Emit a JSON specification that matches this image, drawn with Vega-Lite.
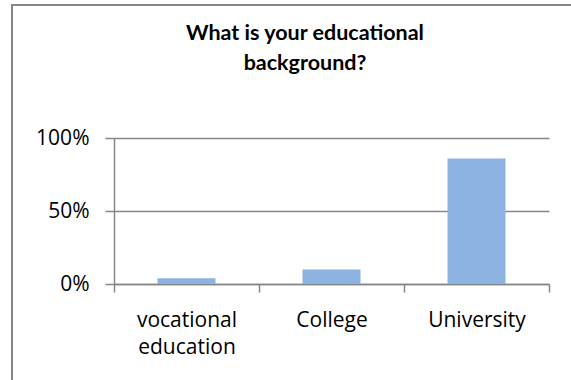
{
  "$schema": "https://vega.github.io/schema/vega-lite/v6.json",
  "autosize": "none",
  "padding": {"left": 12, "top": 5, "right": 0, "bottom": 0},
  "width": 586,
  "height": 400,
  "background": "white",
  "config": {
    "view": {"stroke": "#868686", "strokeWidth": 2},
    "font": "Open Sans"
  },
  "title": {
    "text": ["What is your educational", "background?"],
    "font": "Lato",
    "fontSize": 21.5,
    "fontWeight": "bold",
    "color": "#000000",
    "anchor": "middle",
    "frame": "group",
    "orient": "top",
    "offset": -69,
    "lineHeight": 30
  },
  "data": {
    "values": [
      {"background": "vocational education", "share": 0.04},
      {"background": "College", "share": 0.10},
      {"background": "University", "share": 0.86}
    ]
  },
  "mark": {"type": "bar", "color": "#8DB3E2", "width": {"band": 0.4}},
  "encoding": {
    "x": {
      "field": "background",
      "type": "nominal",
      "sort": null,
      "scale": {"range": [102, 537], "paddingInner": 0, "paddingOuter": 0},
      "axis": {
        "title": null,
        "offset": -121,
        "labelAngle": 0,
        "labelFont": "Open Sans",
        "labelFontSize": 21,
        "labelColor": "#000000",
        "labelPadding": 17,
        "labelLineHeight": 27,
        "labelExpr": "datum.label == 'vocational education' ? ['vocational', 'education'] : datum.label",
        "tickBand": "extent",
        "tickSize": 8,
        "tickColor": "#868686",
        "tickWidth": 1.5,
        "domainColor": "#868686",
        "domainWidth": 1.5,
        "grid": false
      }
    },
    "y": {
      "field": "share",
      "type": "quantitative",
      "scale": {"domain": [0, 1], "range": [279, 133], "nice": false},
      "axis": {
        "title": null,
        "offset": -102,
        "values": [0, 0.5, 1],
        "format": ".0%",
        "labelFont": "Open Sans",
        "labelFontSize": 21,
        "labelColor": "#000000",
        "labelPadding": 16,
        "tickSize": 9,
        "tickColor": "#868686",
        "tickWidth": 1.5,
        "domainColor": "#868686",
        "domainWidth": 1.5,
        "grid": true,
        "gridColor": "#868686",
        "gridWidth": 1.5
      }
    }
  }
}
